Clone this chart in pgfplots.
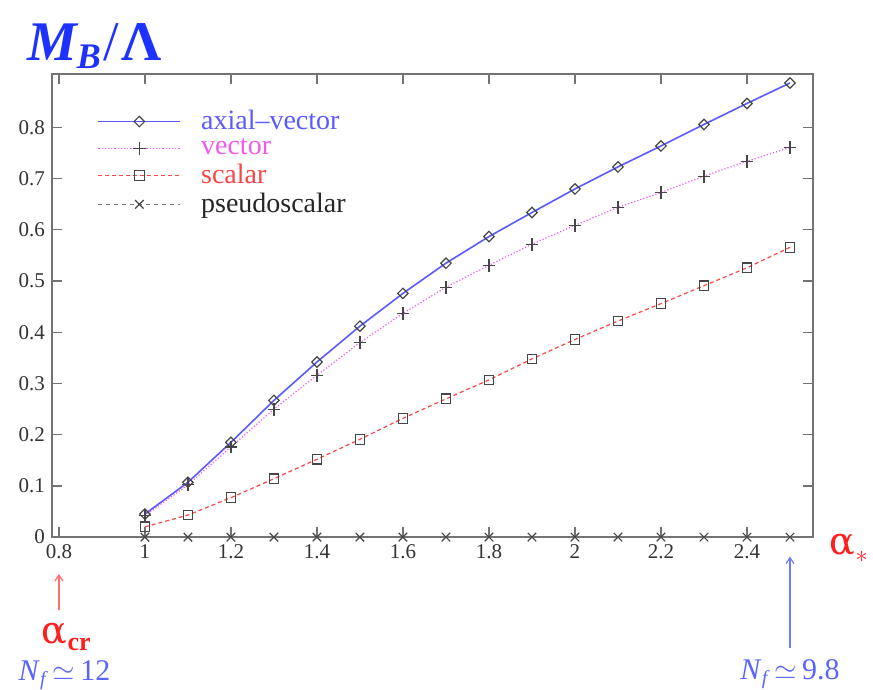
\documentclass[border=0pt]{standalone}
\usepackage{pgfplots}
\pgfplotsset{compat=1.18}
\usepackage{fontspec}
\setmainfont{Liberation Serif}
\newfontfamily\greekfont{DejaVu Serif}
\usetikzlibrary{arrows.meta}

\definecolor{axcol}{RGB}{90,90,255}
\definecolor{vecol}{RGB}{240,90,240}
\definecolor{sccol}{RGB}{250,70,70}
\definecolor{pscol}{RGB}{120,120,120}
\definecolor{titleblue}{RGB}{30,50,255}
\definecolor{nfblue}{RGB}{90,100,255}
\definecolor{alphared}{RGB}{255,30,30}
\definecolor{arrred}{RGB}{255,110,110}
\definecolor{arrblue}{RGB}{110,125,255}
\definecolor{markgray}{RGB}{70,70,70}

\begin{document}
\begin{tikzpicture}
\begin{axis}[
  scale only axis,
  width=380.5pt, height=231.5pt,
  xmin=0.784, xmax=2.553, ymin=0, ymax=0.904,
  xtick={0.8,1,1.2,1.4,1.6,1.8,2,2.2,2.4},
  ytick={0,0.1,0.2,0.3,0.4,0.5,0.6,0.7,0.8},
  tick align=inside,
  major tick length=5pt,
  axis line style={draw=black!55, line width=0.8pt},
  tick style={draw=black!55, line width=0.6pt},
  tick label style={font=\fontsize{10.5}{12}\selectfont, text=black!80},
  /pgf/number format/assume math mode=true,
  clip=false,
  legend cell align=left,
  legend style={at={(axis cs:0.875,0.848)}, anchor=north west,
    draw=none, fill=none, font=\fontsize{14}{15}\selectfont,
    row sep=0.2pt, column sep=8.5pt, nodes={inner sep=1.5pt}},
  legend image code/.code={%
    \draw[mark repeat=2, mark phase=2] plot coordinates {(0pt,0pt) (20.5pt,0pt) (41pt,0pt)};},
]
\addplot[axcol, line width=0.8pt, mark=square, mark size=1.85pt,
  mark options={draw=markgray, fill=none, solid, rotate=45, line width=0.6pt}]
  coordinates {
  (1.0,0.045) (1.1,0.107) (1.2,0.185) (1.3,0.267) (1.4,0.342) (1.5,0.412)
  (1.6,0.476) (1.7,0.535) (1.8,0.587) (1.9,0.634) (2.0,0.680) (2.1,0.723)
  (2.2,0.764) (2.3,0.806) (2.4,0.847) (2.5,0.887)};
\addlegendentry{\textcolor{axcol}{axial\textendash vector}}

\addplot[vecol, line width=0.6pt, densely dotted, mark=+, mark size=3.2pt,
  mark options={draw=markgray, solid, line width=0.6pt}]
  coordinates {
  (1.0,0.042) (1.1,0.102) (1.2,0.176) (1.3,0.250) (1.4,0.316) (1.5,0.380)
  (1.6,0.437) (1.7,0.488) (1.8,0.531) (1.9,0.572) (2.0,0.609) (2.1,0.644)
  (2.2,0.673) (2.3,0.705) (2.4,0.734) (2.5,0.761)};
\addlegendentry{\textcolor{vecol}{vector}}

\addplot[sccol, line width=0.6pt, dash pattern=on 2pt off 1.5pt, mark=square, mark size=2.4pt,
  mark options={draw=markgray, fill=none, solid, line width=0.6pt}]
  coordinates {
  (1.0,0.020) (1.1,0.043) (1.2,0.077) (1.3,0.114) (1.4,0.152) (1.5,0.191)
  (1.6,0.232) (1.7,0.270) (1.8,0.307) (1.9,0.348) (2.0,0.386) (2.1,0.422)
  (2.2,0.456) (2.3,0.491) (2.4,0.526) (2.5,0.566)};
\addlegendentry{\textcolor{sccol}{scalar}}

\addplot[pscol, line width=0.6pt, dash pattern=on 2pt off 2pt, mark=x, mark size=3pt,
  mark options={draw=markgray, solid, line width=0.6pt}]
  coordinates {
  (1.0,0) (1.1,0) (1.2,0) (1.3,0) (1.4,0) (1.5,0) (1.6,0) (1.7,0)
  (1.8,0) (1.9,0) (2.0,0) (2.1,0) (2.2,0) (2.3,0) (2.4,0) (2.5,0)};
\addlegendentry{\textcolor{black!85}{pseudoscalar}}

% title
\node[anchor=base west, text=titleblue, inner sep=0pt] at (axis cs:0.725,0.93)
  {\fontsize{28}{30}\selectfont\bfseries\itshape M\raisebox{-0.3ex}{\fontsize{18}{20}\selectfont B}\hspace{0.05em}{\mdseries\upshape /}\hspace{0.05em}{\upshape Λ}};

% horizontal-axis label
\node[anchor=west, text=alphared, inner sep=0pt] at (axis cs:2.592,-0.022)
  {\fontsize{19}{22}\selectfont{\greekfont α}\raisebox{-0.45ex}{\fontsize{13}{13}\selectfont$\ast$}};

% critical coupling
\draw[arrred, line width=0.6pt, -{Straight Barb[length=3pt,width=4pt]}]
  (axis cs:0.8,-0.143) -- (axis cs:0.8,-0.072);
\node[text=alphared, inner sep=0pt] at (axis cs:0.817,-0.195)
  {\fontsize{19}{22}\selectfont{\greekfont α}\raisebox{-0.35ex}{\fontsize{13}{15}\selectfont\bfseries cr}};
\node[text=nfblue, inner sep=0pt] at (axis cs:0.813,-0.27)
  {\fontsize{15}{17}\selectfont\textit{N}\raisebox{-0.4ex}{\fontsize{10}{12}\selectfont\textit{f}}\,$\simeq$\,12};

% end point
\draw[arrblue, line width=0.6pt, -{Straight Barb[length=3pt,width=4pt]}]
  (axis cs:2.5,-0.217) -- (axis cs:2.5,-0.038);
\node[text=nfblue, inner sep=0pt] at (axis cs:2.5,-0.268)
  {\fontsize{15}{17}\selectfont\textit{N}\raisebox{-0.4ex}{\fontsize{10}{12}\selectfont\textit{f}}\,$\simeq$\,9.8};

\coordinate (bbsw) at (axis cs:0.663,-0.297);
\coordinate (bbne) at (axis cs:2.693,1.049);
\end{axis}
\pgfresetboundingbox
\path (bbsw) rectangle (bbne);
\end{tikzpicture}
\end{document}
